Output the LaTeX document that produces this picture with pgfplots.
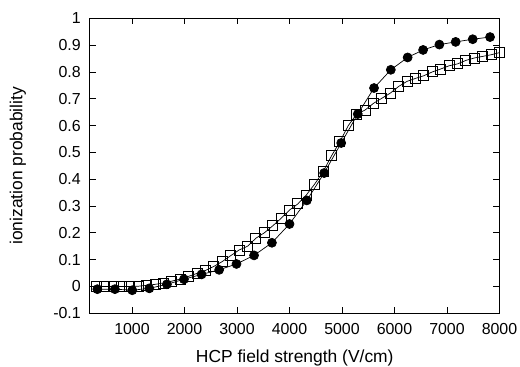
\documentclass[border=0pt]{standalone}
\usepackage{pgfplots}
\pgfplotsset{compat=1.18}
\usepackage{fontspec}
\setmainfont{Liberation Sans}
\begin{document}
\begin{tikzpicture}
\path[use as bounding box] (-90bp,-53.7bp) rectangle (430bp,313.3bp);
\begin{axis}[
  at={(0,0)}, anchor=south west,
  scale only axis, width=409.5bp, height=295bp,
  xmin=200, xmax=8000, ymin=-0.1, ymax=1,
  xtick={1000,2000,3000,4000,5000,6000,7000,8000},
  ytick={-0.1,0,0.1,0.2,0.3,0.4,0.5,0.6,0.7,0.8,0.9,1},
  scaled x ticks=false, scaled y ticks=false,
  /pgf/number format/assume math mode=true,
  /pgf/number format/1000 sep={},
  yticklabel style={/pgf/number format/fixed, /pgf/number format/precision=1, xshift=-5.7bp},
  xticklabel style={yshift=-7bp},
  tick label style={font=\fontsize{16}{18}\selectfont},
  label style={font=\fontsize{17.5}{20}\selectfont},
  tick align=inside, major tick length=6bp,
  xtick pos=both, ytick pos=both,
  axis line style={line width=1bp},
  every tick/.style={black, line width=0.8bp},
  xlabel={HCP field strength (V/cm)},
  ylabel={ionization probability},
  xlabel style={at={(axis description cs:0.5,-0.1678)}, anchor=base},
  ylabel style={at={(axis description cs:-0.1653,0.5)}, anchor=base},
  clip=false,
]
\addplot[black, line width=0.7bp, mark=square, mark size=5bp, mark options={line width=0.9bp, fill=none}] coordinates {
(320,0.000) (480,0.000) (640,0.000) (800,0.000) (960,0.000) (1120,0.001) (1280,0.004)
(1440,0.008) (1600,0.013) (1760,0.020) (1920,0.028) (2080,0.038) (2240,0.049)
(2400,0.060) (2560,0.075) (2720,0.093) (2880,0.115) (3040,0.136) (3200,0.150)
(3360,0.180) (3520,0.200) (3680,0.226) (3840,0.254) (4000,0.285) (4160,0.308)
(4320,0.341) (4480,0.382) (4640,0.428) (4800,0.487) (4960,0.540) (5120,0.600)
(5280,0.643) (5440,0.658) (5600,0.683) (5760,0.702) (5920,0.721) (6080,0.746)
(6240,0.765) (6400,0.776) (6560,0.786) (6720,0.800) (6880,0.811) (7040,0.823)
(7200,0.830) (7360,0.843) (7520,0.852) (7680,0.858) (7840,0.864) (8000,0.872)
};
\addplot[black, line width=0.7bp, mark=*, mark size=4.5bp, mark options={fill=black}] coordinates {
(340,-0.010) (675,-0.010) (1005,-0.014) (1330,-0.007) (1665,0.008) (1990,0.027)
(2325,0.045) (2660,0.062) (2990,0.084) (3325,0.116) (3665,0.163) (4000,0.233)
(4330,0.321) (4660,0.423) (4985,0.535) (5300,0.643) (5610,0.740) (5930,0.808)
(6250,0.854) (6545,0.882) (6855,0.902) (7165,0.912) (7490,0.922) (7820,0.930)
};
\end{axis}
\end{tikzpicture}
\end{document}
